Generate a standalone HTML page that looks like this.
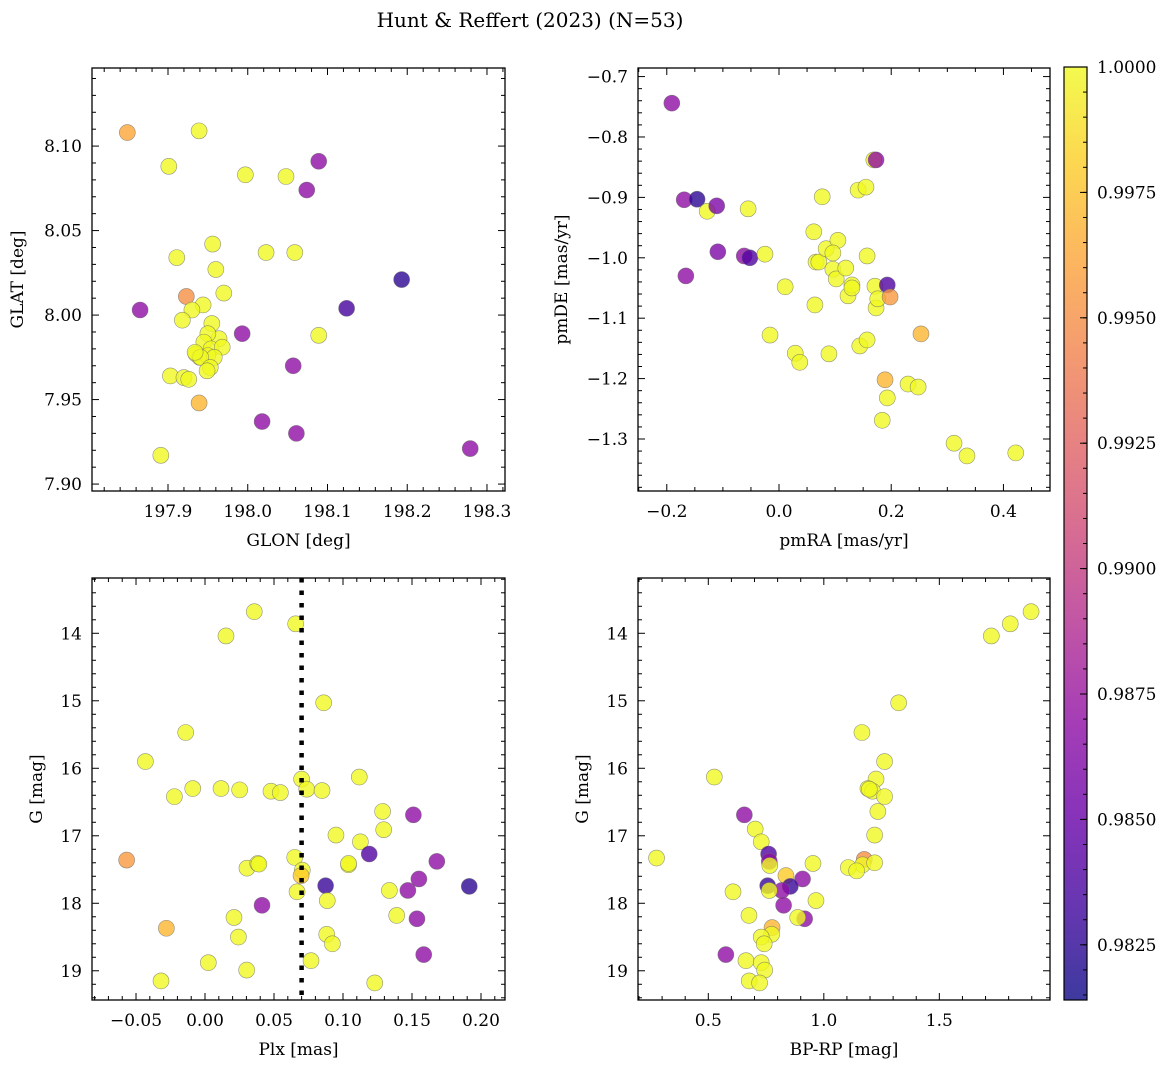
<!DOCTYPE html>
<html><head><meta charset="utf-8">
<style>
html,body{margin:0;padding:0;background:#fff;}
svg text{font-family:"DejaVu Serif","Liberation Serif",serif;fill:#000;}
</style></head>
<body>
<svg id="fig" width="1173" height="1067" viewBox="0 0 1173 1067" xmlns="http://www.w3.org/2000/svg">
<defs>
<linearGradient id="plasma" x1="0" y1="1" x2="0" y2="0">
<stop offset="0" stop-color="#0d0887"/><stop offset="0.1" stop-color="#41049d"/><stop offset="0.2" stop-color="#6a00a8"/><stop offset="0.3" stop-color="#8f0da4"/><stop offset="0.4" stop-color="#b12a90"/><stop offset="0.5" stop-color="#cc4778"/><stop offset="0.6" stop-color="#e16462"/><stop offset="0.7" stop-color="#f2844b"/><stop offset="0.8" stop-color="#fca636"/><stop offset="0.9" stop-color="#fcce25"/><stop offset="1" stop-color="#f0f921"/>
</linearGradient>
</defs>
<text x="530" y="27" font-size="20" text-anchor="middle">Hunt &amp; Reffert (2023) (N=53)</text>
</svg>
<script>
// ---- data ----
const glon=[197.849,197.939,197.901,197.997,198.048,198.089,198.074,197.911,197.956,197.960,198.023,198.059,198.193,198.124,197.970,197.923,197.865,197.944,197.930,197.918,197.955,197.993,198.089,197.964,197.950,197.945,197.954,197.968,197.935,197.940,197.950,197.958,197.941,197.953,197.949,197.934,198.057,197.903,197.920,197.926,197.939,198.018,198.061,197.891,198.279];
const glat=[8.108,8.109,8.088,8.083,8.082,8.091,8.074,8.034,8.042,8.027,8.037,8.037,8.021,8.004,8.013,8.011,8.003,8.006,8.003,7.997,7.995,7.989,7.988,7.986,7.989,7.984,7.980,7.981,7.977,7.975,7.976,7.975,7.975,7.969,7.967,7.978,7.970,7.964,7.963,7.962,7.948,7.937,7.930,7.917,7.921];
const probA=[0.9962,1,1,1,1,0.987,0.987,1,1,1,1,1,0.9825,0.9835,1,0.995,0.987,1,1,1,1,0.987,1,1,1,1,1,1,1,1,1,1,1,1,1,1,0.987,1,1,1,0.997,0.987,0.987,1,0.987];

const pmra=[-0.191,-0.169,-0.146,-0.128,-0.111,-0.055,-0.166,-0.109,-0.062,-0.052,-0.025,0.011,-0.016,0.029,0.037,0.089,0.064,0.066,0.071,0.062,0.077,0.084,0.105,0.096,0.096,0.102,0.119,0.123,0.130,0.130,0.141,0.155,0.169,0.173,0.157,0.171,0.173,0.176,0.193,0.198,0.144,0.157,0.189,0.193,0.184,0.230,0.248,0.253,0.312,0.335,0.422];
const pmde=[-0.744,-0.904,-0.903,-0.923,-0.914,-0.919,-1.030,-0.990,-0.997,-1.000,-0.994,-1.048,-1.128,-1.158,-1.173,-1.159,-1.078,-1.007,-1.007,-0.957,-0.899,-0.985,-0.971,-0.992,-1.019,-1.035,-1.017,-1.063,-1.045,-1.050,-0.888,-0.883,-0.838,-0.838,-0.997,-1.047,-1.083,-1.068,-1.045,-1.065,-1.146,-1.136,-1.202,-1.232,-1.269,-1.209,-1.214,-1.126,-1.307,-1.328,-1.323];
const probB=[0.987,0.987,0.9825,1,0.986,1,0.987,0.986,0.987,0.984,1,1,1,1,1,1,1,1,1,1,1,1,1,1,1,1,1,1,1,1,1,1,1,0.987,1,1,1,1,0.984,0.9955,1,1,0.997,1,1,1,1,0.997,1,1,1];

const plx=[0.0357,0.0657,0.0152,0.086,-0.014,-0.0432,0.1118,0.070,-0.0222,-0.0089,0.0116,0.0251,0.0478,0.0546,0.0737,0.0848,0.1287,0.151,0.1295,0.0949,0.1126,0.119,0.168,-0.0568,0.0304,0.0382,0.039,0.065,0.0705,0.0696,0.104,0.104,0.155,0.0874,0.1915,0.147,0.1336,0.0667,0.0886,0.0413,0.1389,0.1536,0.021,-0.028,0.0242,0.0882,0.0923,0.1585,0.0768,0.0024,0.0302,-0.0319,0.123];
const gmagC=[13.68,13.86,14.04,15.03,15.47,15.90,16.13,16.16,16.42,16.30,16.30,16.32,16.34,16.36,16.31,16.33,16.64,16.69,16.91,16.99,17.09,17.27,17.38,17.36,17.48,17.41,17.42,17.32,17.51,17.59,17.43,17.41,17.64,17.74,17.75,17.81,17.81,17.83,17.96,18.03,18.18,18.23,18.21,18.37,18.50,18.46,18.60,18.76,18.85,18.88,18.99,19.15,19.18];
const probC=[1,1,1,1,1,1,1,1,1,1,1,1,1,1,1,1,1,0.987,1,1,1,0.984,0.987,0.9955,1,1,1,1,1,0.998,1,1,0.987,0.983,0.9825,0.987,1,1,1,0.987,1,0.987,1,0.997,1,1,1,0.987,1,1,1,1,1];
const plxLine=0.070;

const bprp=[1.897,1.807,1.725,1.324,1.165,1.263,1.226,1.191,1.211,1.197,1.263,0.526,0.656,1.234,0.703,1.220,0.729,0.761,0.764,0.766,0.276,0.953,1.175,1.168,1.220,1.106,1.142,0.836,0.908,0.757,0.855,0.818,0.764,0.607,0.966,0.826,0.676,0.917,0.887,0.776,0.774,0.729,0.742,0.576,0.663,0.729,0.744,0.677,0.722];
const gmagD=[13.68,13.86,14.04,15.03,15.47,15.90,16.16,16.30,16.34,16.31,16.42,16.13,16.69,16.64,16.90,16.99,17.09,17.27,17.38,17.44,17.33,17.41,17.35,17.43,17.40,17.47,17.52,17.59,17.64,17.74,17.75,17.81,17.81,17.83,17.96,18.03,18.18,18.23,18.21,18.36,18.46,18.50,18.60,18.76,18.85,18.88,18.99,19.15,19.18];
const probD=[1,1,1,1,1,1,1,1,1,1,1,1,0.987,1,1,1,1,0.984,0.987,1,1,1,0.995,1,1,1,1,0.998,0.987,0.983,0.983,0.987,1,1,1,0.987,1,0.987,1,0.997,1,1,1,0.987,1,1,1,1,1];

const cbTicks=[0.9825,0.9850,0.9875,0.9900,0.9925,0.9950,0.9975,1.0000];
const VMIN=0.9814, VMAX=1.0;

// ---- helpers ----
const NS="http://www.w3.org/2000/svg";
const svg=document.getElementById('fig');
function mk(tag,attrs,parent){const e=document.createElementNS(NS,tag);for(const k in attrs)e.setAttribute(k,attrs[k]);(parent||svg).appendChild(e);return e;}
const stops=[[13,8,135],[65,4,157],[106,0,168],[143,13,164],[177,42,144],[204,71,120],[225,100,98],[242,132,75],[252,166,54],[252,206,37],[240,249,33]];
function plasma(p){let t=(p-VMIN)/(VMAX-VMIN);t=Math.max(0,Math.min(1,t))*10;const i=Math.min(9,Math.floor(t)),f=t-i;const a=stops[i],b=stops[i+1];return `rgb(${a.map((v,k)=>Math.round(v+(b[k]-v)*f)).join(',')})`;}
function fmt(v,d){const s=Math.abs(v).toFixed(d);return (v<-1e-9?'\u2212':'')+s;}

function panel(cfg){
  const {name,x0,y0,x1,y1,xr,yr,yinv,xmaj,xmin,ymaj,ymin,xd,yd,xlabel,ylabel,xs,ys,ps,ylabX}=cfg;
  const g=mk('g',{});
  
  
  const sx=v=>x0+(v-xr[0])/(xr[1]-xr[0])*(x1-x0);
  const sy=v=>yinv? y0+(v-yr[0])/(yr[1]-yr[0])*(y1-y0) : y1-(v-yr[0])/(yr[1]-yr[0])*(y1-y0);
  const pts=mk('g',{},g);
  
  
  for(let i=0;i<xs.length;i++){
    const c=mk('circle',{cx:sx(xs[i]),cy:sy(ys[i]),r:8,fill:plasma(ps[i]),'fill-opacity':0.8,stroke:'#6a6a6a','stroke-opacity':0.7,'stroke-width':0.6},pts);
    
    
  }
  if(cfg.vline!==undefined){
    const l=mk('line',{x1:sx(cfg.vline),x2:sx(cfg.vline),y1:y0,y2:y1,stroke:'#000','stroke-width':4.5,'stroke-dasharray':'4.5 8'},g);
    
    
  }
  const fr=mk('rect',{x:x0,y:y0,width:x1-x0,height:y1-y0,fill:'none',stroke:'#000','stroke-width':1.3},g);
  
  
  const ticks=mk('g',{stroke:'#000','stroke-width':1},g);
  
  
  const eps=1e-9;
  for(let v=Math.ceil(xr[0]/xmin-eps)*xmin; v<=xr[1]+eps; v+=xmin){
    const isMaj=Math.abs(v/xmaj-Math.round(v/xmaj))<1e-4;const L=isMaj?7:4;const X=sx(v);
    mk('line',{x1:X,x2:X,y1:y1,y2:y1-L},ticks);mk('line',{x1:X,x2:X,y1:y0,y2:y0+L},ticks);
    if(isMaj){const t=mk('text',{x:X,y:y1+26,'font-size':17,'text-anchor':'middle',stroke:'none'},g);t.textContent=fmt(v,xd);
      }
  }
  for(let v=Math.ceil(yr[0]/ymin-eps)*ymin; v<=yr[1]+eps; v+=ymin){
    const isMaj=Math.abs(v/ymaj-Math.round(v/ymaj))<1e-4;const L=isMaj?7:4;const Y=sy(v);
    mk('line',{x1:x0,x2:x0+L,y1:Y,y2:Y},ticks);mk('line',{x1:x1,x2:x1-L,y1:Y,y2:Y},ticks);
    if(isMaj){const t=mk('text',{x:x0-10,y:Y+6,'font-size':17,'text-anchor':'end',stroke:'none'},g);t.textContent=fmt(v,yd);
      }
  }
  const xl=mk('text',{x:(x0+x1)/2,y:y1+55,'font-size':17,'text-anchor':'middle'},g);xl.textContent=xlabel;
  
  const yl=mk('text',{x:ylabX,y:(y0+y1)/2,'font-size':17,'text-anchor':'middle',transform:`rotate(-90 ${ylabX} ${(y0+y1)/2})`},g);yl.textContent=ylabel;
  
}

panel({name:'glon-glat-panel',x0:92,y0:68,x1:505,y1:491,xr:[197.8047,198.3226],yr:[7.8959,8.1462],yinv:false,xmaj:0.1,xmin:0.02,ymaj:0.05,ymin:0.01,xd:1,yd:2,xlabel:'GLON [deg]',ylabel:'GLAT [deg]',xs:glon,ys:glat,ps:probA,ylabX:23});
panel({name:'proper-motion-panel',x0:638,y0:68,x1:1050,y1:491,xr:[-0.2513,0.483],yr:[-1.3861,-0.6858],yinv:false,xmaj:0.2,xmin:0.05,ymaj:0.1,ymin:0.02,xd:1,yd:1,xlabel:'pmRA [mas/yr]',ylabel:'pmDE [mas/yr]',xs:pmra,ys:pmde,ps:probB,ylabX:567});
panel({name:'parallax-magnitude-panel',x0:92,y0:578,x1:505,y1:1000,xr:[-0.0819,0.2174],yr:[13.181,19.433],yinv:true,xmaj:0.05,xmin:0.01,ymaj:1,ymin:0.2,xd:2,yd:0,xlabel:'Plx [mas]',ylabel:'G [mag]',xs:plx,ys:gmagC,ps:probC,ylabX:42,vline:plxLine});
panel({name:'color-magnitude-panel',x0:638,y0:578,x1:1050,y1:1000,xr:[0.1957,1.979],yr:[13.181,19.433],yinv:true,xmaj:0.5,xmin:0.1,ymaj:1,ymin:0.2,xd:1,yd:0,xlabel:'BP-RP [mag]',ylabel:'G [mag]',xs:bprp,ys:gmagD,ps:probD,ylabX:588});

// colorbar
const cb=mk('g',{});


const CX0=1064,CX1=1087,CY0=67,CY1=1000;
mk('rect',{x:CX0,y:CY0,width:CX1-CX0,height:CY1-CY0,fill:'url(#plasma)','fill-opacity':0.8},cb);
mk('rect',{x:CX0,y:CY0,width:CX1-CX0,height:CY1-CY0,fill:'none',stroke:'#000','stroke-width':1.2},cb);
const cy=v=>CY1-(v-VMIN)/(VMAX-VMIN)*(CY1-CY0);
for(let v=Math.ceil(VMIN/0.0005)*0.0005; v<=VMAX+1e-9; v+=0.0005){mk('line',{x1:CX1,x2:CX1-4,y1:cy(v),y2:cy(v),stroke:'#000'},cb);}
cbTicks.forEach(v=>{
  mk('line',{x1:CX1,x2:CX1-7,y1:cy(v),y2:cy(v),stroke:'#000'},cb);
  const t=mk('text',{x:CX1+10,y:cy(v)+6,'font-size':17},cb);t.textContent=v.toFixed(4);
  
  
});
</script>
</body></html>
